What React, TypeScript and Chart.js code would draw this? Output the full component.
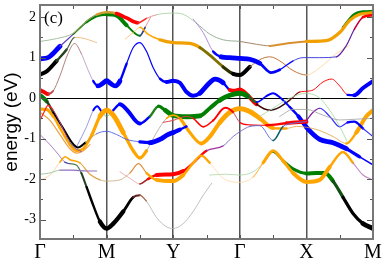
import React, { useEffect, useRef } from 'react';
import { Chart, registerables } from 'chart.js';
Chart.register(...registerables);

const kLabels = ['Γ', 'M', 'Y', 'Γ', 'X', 'M'];
const kTicks = [0, 1, 2, 3, 4, 5];
const eTicks = [-3, -2, -1, 0, 1, 2];
const eMin = -3.48;
const eMax = 2.3;

// Band energies: [k, E(eV)] along Γ-M-Y-Γ-X-M
const topBand = [[0,1.40],[0.25,1.47],[0.5,1.6],[0.7,1.9],[0.85,2.06],[1.0,2.12],[1.15,2.09],[1.3,1.98],[1.47,1.86],[1.6,1.97],[1.75,2.06],[2.0,2.1],[2.15,2.07],[2.35,1.85],[2.55,1.58],[2.75,1.44],[3.0,1.40],[3.25,1.33],[3.45,1.29],[3.7,1.35],[4.0,1.40],[4.3,1.42],[4.5,1.62],[4.65,1.92],[4.8,2.07],[5.0,2.11]];
const secondBand = [[0,0.97],[0.12,1.0],[0.3,1.28],[0.5,1.58],[0.7,1.88],[0.85,2.03],[1.0,2.07],[1.15,2.04],[1.3,1.8],[1.5,1.54],[1.58,1.75],[1.66,2.0]];
const topGreen = [[4.55,1.75],[4.7,2.05],[4.85,2.14],[5.0,2.15]];
const orangeUpper = [[1.28,1.46],[1.4,1.62],[1.5,1.75],[1.62,1.58],[1.8,1.44],[2.0,1.37],[2.25,1.35],[2.4,1.25],[2.55,1.06],[2.75,0.77],[2.9,0.6],[3.0,0.57],[3.15,0.77],[3.3,0.95],[3.45,1.02],[3.6,0.92],[3.8,0.68],[4.0,0.57],[4.2,0.75],[4.45,1.1],[4.65,1.3]];
const blackUpper = [[0,0.58],[0.1,0.66],[0.25,0.92],[0.4,1.2],[0.52,1.5],[0.65,1.48],[0.8,1.4],[0.85,1.37]];
const wiggleBand = [[0,0.2],[0.06,0.15],[0.12,0.1],[0.2,0.18],[0.3,0.55],[0.42,1.1],[0.52,1.35],[0.62,1.1],[0.72,0.7],[0.8,0.42],[0.87,0.3],[0.94,0.36],[1.0,0.43],[1.06,0.36],[1.13,0.3],[1.2,0.42],[1.3,0.85],[1.4,1.25],[1.5,1.37],[1.6,1.15],[1.7,0.75],[1.8,0.48],[1.9,0.4],[2.0,0.43],[2.1,0.38],[2.2,0.15],[2.3,0.06],[2.4,0.12],[2.5,0.3],[2.63,0.47],[2.75,0.38],[2.85,0.2],[2.93,0.18],[3.0,0.21],[3.1,0.1],[3.25,-0.15],[3.45,-0.3],[3.6,-0.22],[3.75,-0.05],[3.9,0.15],[4.0,0.17],[4.1,0.2],[4.25,0.4],[4.38,0.47],[4.5,0.3],[4.62,0.08],[4.72,0.07],[4.85,0.25],[5.0,0.42]];
const blueUpper = [[2.3,1.95],[2.45,1.62],[2.6,1.15],[2.72,1.02],[2.85,1.0],[3.0,0.98],[3.15,0.96],[3.3,0.86],[3.47,0.63],[3.6,0.7],[3.8,0.92],[3.95,1.0],[4.2,1.0],[4.45,1.02],[4.6,1.3],[4.72,1.7],[4.85,2.0],[5.0,2.05]];
const greenValence = [[0,0.08],[0.1,-0.08],[0.2,-0.35],[0.35,-0.75],[0.48,-1.1],[0.57,-1.22],[0.68,-1.1],[0.85,-0.88],[1.0,-0.82],[1.15,-0.9],[1.3,-1.02],[1.5,-1.08],[1.65,-1.1],[1.8,-1.02],[1.92,-0.9],[2.0,-0.85],[2.1,-0.78],[2.2,-0.7]];
const wiggleValence = [[0.55,-1.2],[0.7,-0.7],[0.8,-0.3],[0.86,-0.2],[0.93,-0.35],[1.0,-0.45],[1.1,-0.3],[1.2,-0.15],[1.3,-0.28],[1.5,-0.63],[1.65,-0.45],[1.78,-0.2],[1.88,-0.3],[2.0,-0.43],[2.2,-0.46],[2.4,-0.44],[2.55,-0.25],[2.7,-0.05],[2.85,0.07],[3.0,0.12],[3.12,0.05],[3.25,-0.1],[3.4,0.05],[3.5,0.12],[3.6,0.02],[3.75,-0.22],[3.88,-0.45],[4.0,-0.72],[4.2,-1.02],[4.4,-1.1],[4.6,-1.25],[4.8,-1.45],[5.0,-1.65]];
const orangeValence = [[0,-0.27],[0.1,-0.28],[0.2,-0.45],[0.32,-0.8],[0.45,-1.15],[0.55,-1.3],[0.65,-1.25],[0.78,-0.9],[0.9,-0.45],[1.0,-0.3],[1.1,-0.42],[1.25,-0.85],[1.4,-1.3],[1.5,-1.48],[1.6,-1.3],[1.75,-0.85],[1.9,-0.5],[2.0,-0.42],[2.1,-0.5],[2.25,-0.85],[2.42,-1.12],[2.55,-0.95],[2.7,-0.6],[2.85,-0.35],[3.0,-0.26],[3.15,-0.33],[3.3,-0.5],[3.5,-0.74],[3.7,-0.75],[3.85,-0.7],[4.0,-0.72],[4.2,-0.8],[4.4,-0.95],[4.6,-1.12],[4.75,-0.85],[4.9,-0.45],[5.0,-0.3]];
const orangeThin = [[0,-0.35],[0.15,-0.55],[0.3,-0.9],[0.45,-1.25],[0.55,-1.36],[0.65,-1.3],[0.75,-1.15]];
const redGamma = [[0,-0.55],[0.06,-0.35],[0.12,-0.18],[0.2,-0.3],[0.3,-0.6],[0.4,-0.95],[0.5,-1.2],[0.62,-1.32]];
const redValence = [[1.85,-0.6],[2.0,-0.55],[2.2,-0.45],[2.3,-0.5],[2.45,-0.71],[2.6,-0.55],[2.78,-0.24],[2.9,-0.35],[3.0,-0.6],[3.15,-0.66],[3.4,-0.67],[3.7,-0.62],[4.0,-0.58]];
const purpleX = [[4.0,-0.55],[4.1,-0.35],[4.2,-0.25],[4.35,-0.45],[4.5,-0.71],[4.62,-0.6],[4.72,-0.58],[4.85,-0.75],[5.0,-0.95]];
const greenX = [[3.3,-0.45],[3.5,-0.25],[3.75,0.0],[4.0,0.12],[4.2,0.0],[4.35,-0.3],[4.5,-0.7],[4.62,-1.1]];
const grayX = [[3.6,-0.45],[3.8,-0.28],[4.0,-0.28],[4.25,-0.42],[4.5,-0.54],[4.75,-0.52],[5.0,-0.5]];
const blackLow = [[0,-0.9],[0.15,-1.15],[0.28,-1.4],[0.37,-1.58],[0.45,-1.62],[0.55,-1.66],[0.62,-1.85],[0.7,-2.2],[0.8,-2.65],[0.9,-3.05],[1.0,-3.22],[1.1,-3.1],[1.25,-2.8],[1.4,-2.45],[1.5,-2.4],[1.6,-2.55],[1.75,-2.95],[1.9,-3.18],[2.0,-3.22],[2.15,-3.1],[2.3,-2.8],[2.45,-2.4],[2.58,-2.1]];
const flatLow = [[0,-1.88],[0.15,-1.85],[0.3,-1.78],[0.5,-1.78],[0.7,-1.8],[0.85,-1.8]];
const orangeLow = [[0,-2.02],[0.15,-1.9],[0.3,-1.58],[0.38,-1.45],[0.45,-1.52],[0.6,-1.6],[0.75,-1.88],[0.9,-2.02],[1.0,-2.05],[1.2,-2.02],[1.35,-1.85],[1.48,-1.62],[1.6,-1.85],[1.75,-2.02],[2.0,-2.05],[2.15,-1.9],[2.3,-1.6],[2.42,-1.42],[2.55,-1.6],[2.75,-1.98],[3.0,-2.08],[3.2,-1.95],[3.35,-1.6],[3.5,-1.3],[3.65,-1.55],[3.8,-1.85],[4.0,-2.07],[4.2,-2.02],[4.35,-1.7],[4.55,-1.33],[4.7,-1.6],[4.85,-1.9],[5.0,-2.02]];
const redLow = [[1.2,-1.82],[1.35,-1.98],[1.5,-2.12],[1.62,-2.0],[1.75,-1.9],[2.0,-1.88],[2.15,-1.8],[2.3,-1.6],[2.5,-1.3],[2.75,-1.18],[2.9,-0.95],[3.0,-0.83],[3.15,-0.7],[3.3,-0.68],[3.5,-1.05],[3.65,-0.7],[3.8,-0.62],[4.0,-0.58]];
const greenLow = [[2.55,-1.9],[2.8,-1.88],[3.0,-1.9],[3.2,-1.82],[3.35,-1.6],[3.5,-1.33],[3.65,-1.55],[3.8,-1.75],[4.0,-1.86],[4.15,-1.85],[4.28,-1.85],[4.4,-2.05],[4.55,-2.45],[4.7,-2.85],[4.85,-3.1],[5.0,-3.22]];

type Style = [number, string, number][];
const bands: { pts: number[][]; style: Style }[] = [
  { pts: flatLow, style: [[0,'#90c090',1],[0.25,'#9070c0',1.5]] },
  { pts: orangeLow, style: [[0,'#ffd090',1],[0.25,'#ffa500',2],[0.55,'#e0a040',1.5],[0.8,'#c8a878',1],[1.3,'#e09040',1.5],[1.5,'#ffa500',3],[1.65,'#ffa500',5],[2.15,'#ffa500',3],[2.45,'#ffd8a0',1],[3.2,'#ffc060',1.5],[3.35,'#ffa500',4],[3.7,'#ffa500',5],[4.25,'#ffa500',3],[4.65,'#c090c0',1.5]] },
  { pts: greenLow, style: [[2.55,'#a8d8a8',1],[3.3,'#60a060',1.5],[3.45,'#007000',2.5],[3.6,'#008000',4],[3.85,'#008000',5],[4.3,'#105010',4],[4.45,'#000000',4],[4.8,'#000000',6]] },
  { pts: redLow, style: [[1.2,'#e8a0a0',1],[1.4,'#a02020',2],[1.6,'#ff0000',3],[1.75,'#ff0000',5],[2.15,'#ff0000',3],[2.4,'#a030a0',1.5],[2.7,'#8070d0',1.2],[3.1,'#6070e0',1.2],[3.35,'#106070',2],[3.65,'#6070e0',1.2]] },
  { pts: blackLow, style: [[0,'#9060b0',1],[0.3,'#4040a0',1.5],[0.45,'#508050',1.5],[0.58,'#204020',2.5],[0.7,'#000000',3],[0.85,'#000000',5.5],[1.15,'#000000',3.5],[1.3,'#602020',2.5],[1.45,'#a06040',1.5],[1.6,'#b0b0b0',1]] },
  { pts: grayX, style: [[3.6,'#a0a0a0',1]] },
  { pts: greenX, style: [[3.3,'#a0d8a0',1]] },
  { pts: purpleX, style: [[4.0,'#8020a0',1.5],[4.2,'#3030ff',1.5],[4.6,'#0000ff',3],[4.8,'#3030ff',1.5]] },
  { pts: redGamma, style: [[0,'#ff2020',1.5],[0.2,'#c04080',1.2],[0.4,'#8050a0',1.2]] },
  { pts: orangeThin, style: [[0,'#f0a040',1.5]] },
  { pts: redValence, style: [[1.85,'#e04040',1.2],[2.3,'#ff0000',2],[2.6,'#ff0000',2.5],[2.85,'#c04060',1.2],[3.0,'#ff0000',1.5],[3.2,'#ff0000',3],[3.5,'#ff0000',5],[3.9,'#ff0000',6]] },
  { pts: greenValence, style: [[0,'#008000',5],[0.1,'#204020',3],[0.2,'#000000',2.5],[0.6,'#c09040',1],[0.7,'#8060c0',1],[0.85,'#4050e0',1],[1.45,'#0000ff',4],[1.6,'#0000ff',6],[2.0,'#0000ff',5],[2.1,'#0000ff',3]] },
  { pts: orangeValence, style: [[0,'#ffa500',4],[0.2,'#ffa500',3],[0.45,'#ffa500',3.5],[0.7,'#ffa500',4],[0.85,'#ffa500',6],[1.15,'#ffa500',4],[1.55,'#b0a090',1],[1.85,'#ffa500',2],[2.1,'#ffa500',4],[2.3,'#ffa500',5],[2.6,'#ffa500',6],[3.2,'#ffa500',5],[3.45,'#ffa500',3],[3.6,'#e0a040',1],[4.5,'#ffa500',3],[4.7,'#ffa500',5]] },
  { pts: wiggleValence, style: [[0.55,'#8080e0',1],[0.75,'#0000ff',2.5],[0.9,'#60a060',1],[1.05,'#0000ff',3],[1.15,'#0000ff',5],[1.45,'#0000ff',3],[1.6,'#208020',3],[1.75,'#008000',4],[1.85,'#008000',6],[2.4,'#008000',5],[2.7,'#008000',6],[3.05,'#206020',3],[3.2,'#0000ff',2],[3.4,'#0000ff',2.5],[3.7,'#0000ff',3],[3.85,'#0000ff',5],[4.0,'#0000ff',6],[4.5,'#0000ff',4],[4.8,'#0000ff',2]] },
  { pts: blackUpper, style: [[0,'#000000',5],[0.15,'#204020',3],[0.35,'#406040',1.5],[0.47,'#f0b070',1]] },
  { pts: wiggleBand, style: [[0,'#ff0000',5],[0.1,'#c04040',2],[0.2,'#a06060',1],[0.55,'#b090c0',1],[0.78,'#0000ff',3],[0.85,'#0000ff',6],[1.15,'#0000ff',3],[1.25,'#0000ff',1.5],[1.75,'#0000ff',3],[1.85,'#0000ff',5],[2.35,'#0000ff',6],[2.75,'#0000ff',3],[2.85,'#ff0000',5],[3.12,'#400000',2],[3.3,'#301010',1.8],[3.65,'#800000',1.5],[3.8,'#ff0000',1.2],[4.55,'#0000ff',3],[4.7,'#0000ff',5]] },
  { pts: blueUpper, style: [[2.3,'#a070d0',1],[2.58,'#0000ff',3],[2.7,'#0000ff',6],[3.3,'#0000ff',3.5],[3.55,'#0000ff',1.5],[3.8,'#4040e0',1.2],[4.45,'#6020a0',1.5],[4.7,'#c00040',2],[4.8,'#ff0000',3.5]] },
  { pts: orangeUpper, style: [[1.28,'#ffc060',1],[1.45,'#ffa500',2],[1.8,'#f0a000',4],[2.3,'#807000',3.5],[2.7,'#303000',4],[2.85,'#000000',5],[3.1,'#c07030',1.2],[4.0,'#ffd090',1]] },
  { pts: topBand, style: [[0,'#8fb08f',1],[0.5,'#c8a070',1.2],[0.8,'#d09a30',3],[1.02,'#ff0000',4.5],[1.4,'#ff2020',2],[1.55,'#e08080',1],[1.7,'#a0d0a0',1],[2.3,'#80a080',1],[2.9,'#a08060',1.2],[3.3,'#d89030',2.5],[3.8,'#f0a000',4]] },
  { pts: secondBand, style: [[0,'#0000ff',6],[0.15,'#6040c0',1.5],[0.4,'#008000',2],[0.6,'#008000',3.5],[0.9,'#008000',5],[1.2,'#008000',2.5],[1.35,'#204080',2],[1.52,'#e08080',1]] },
  { pts: topGreen, style: [[4.55,'#008000',3]] },
];

// line widths in the styles are relative weights; this converts them to pixels
const widthScale = 0.8;

function styleAt(style: Style, x: number) {
  let s = style[0];
  for (const st of style) if (st[0] <= x + 1e-6) s = st;
  return s;
}

const decor = {
  id: 'decor',
  afterDraw(chart: any) {
    const { ctx, chartArea: a, scales } = chart;
    const xs = scales.x, ys = scales.y;
    ctx.save();
    ctx.strokeStyle = '#555';
    ctx.lineWidth = 1;
    for (let k = 0.5; k < 5; k += 0.5) {
      const px = Math.round(xs.getPixelForValue(k)) + 0.5;
      ctx.beginPath();
      ctx.moveTo(px, a.top); ctx.lineTo(px, a.top + 4);
      ctx.moveTo(px, a.bottom); ctx.lineTo(px, a.bottom - 4);
      ctx.stroke();
    }
    for (let e = -3; e <= 2.01; e += 0.5) {
      const py = Math.round(ys.getPixelForValue(e)) + 0.5;
      const len = Number.isInteger(e) ? 6 : 3;
      ctx.beginPath();
      ctx.moveTo(a.left, py); ctx.lineTo(a.left + len, py);
      ctx.moveTo(a.right, py); ctx.lineTo(a.right - len, py);
      ctx.stroke();
    }
    ctx.strokeStyle = '#777';
    ctx.lineWidth = 2;
    ctx.strokeRect(a.left, a.top, a.right - a.left, a.bottom - a.top);
    ctx.fillStyle = '#000';
    ctx.font = '17px "Liberation Serif", serif';
    ctx.textBaseline = 'alphabetic';
    ctx.fillText('(c)', a.left + 4, a.top + 18);
    ctx.restore();
  },
};

export default function App() {
  const ref = useRef<HTMLCanvasElement | null>(null);
  useEffect(() => {
    if (!ref.current) return;
    const datasets = bands.map((b) => ({
      data: b.pts.map(([k, e]) => ({ x: k, y: e })),
      borderColor: b.style[0][1],
      borderWidth: b.style[0][2] * widthScale,
      pointRadius: 0,
      fill: false,
      cubicInterpolationMode: 'monotone' as const,
      borderCapStyle: 'round' as const,
      borderJoinStyle: 'round' as const,
      segment: {
        borderColor: (c: any) => styleAt(b.style, c.p0.parsed.x)[1],
        borderWidth: (c: any) => styleAt(b.style, c.p0.parsed.x)[2] * widthScale,
      },
    }));
    const chart = new Chart(ref.current, {
      type: 'line',
      data: { datasets },
      plugins: [decor],
      options: {
        animation: false,
        responsive: true,
        maintainAspectRatio: false,
        layout: { padding: { left: 0, right: 17, top: 5, bottom: 0 } },
        plugins: { legend: { display: false }, tooltip: { enabled: false } },
        scales: {
          x: {
            type: 'linear',
            min: 0,
            max: 5,
            afterBuildTicks: (s: any) => { s.ticks = kTicks.map((v) => ({ value: v })); },
            afterFit: (s: any) => { s.height = 28; s.paddingLeft = 0; s.paddingRight = 0; },
            ticks: {
              autoSkip: false,
              maxRotation: 0,
              padding: 2,
              color: '#000',
              font: { family: '"Liberation Serif", serif', size: 20 },
              callback: (v: any) => kLabels[Math.round(Number(v))],
            },
            grid: {
              drawTicks: false,
              lineWidth: 1.5,
              color: (c: any) => (c.tick && c.tick.value > 0 && c.tick.value < 5 ? '#555' : 'rgba(0,0,0,0)'),
            },
            border: { display: false },
          },
          y: {
            type: 'linear',
            min: eMin,
            max: eMax,
            afterBuildTicks: (s: any) => { s.ticks = eTicks.map((v) => ({ value: v })); },
            afterFit: (s: any) => { s.width = 40; s.paddingTop = 0; s.paddingBottom = 0; },
            ticks: {
              padding: 4,
              color: '#000',
              font: { family: '"Liberation Serif", serif', size: 14 },
              callback: (v: any) => String(v),
            },
            grid: {
              drawTicks: false,
              lineWidth: 1,
              color: (c: any) => (c.tick && c.tick.value === 0 ? '#000' : 'rgba(0,0,0,0)'),
            },
            border: { display: false },
            title: {
              display: true,
              text: 'energy (eV)',
              color: '#000',
              padding: { top: 0, bottom: 0 },
              font: { family: '"Liberation Sans", Arial, sans-serif', size: 19 },
            },
          },
        },
      },
    });
    return () => chart.destroy();
  }, []);
  return (
    <div style={{ position: 'absolute', left: 0, top: 0, width: 390, height: 267 }}>
      <canvas ref={ref} />
    </div>
  );
}
